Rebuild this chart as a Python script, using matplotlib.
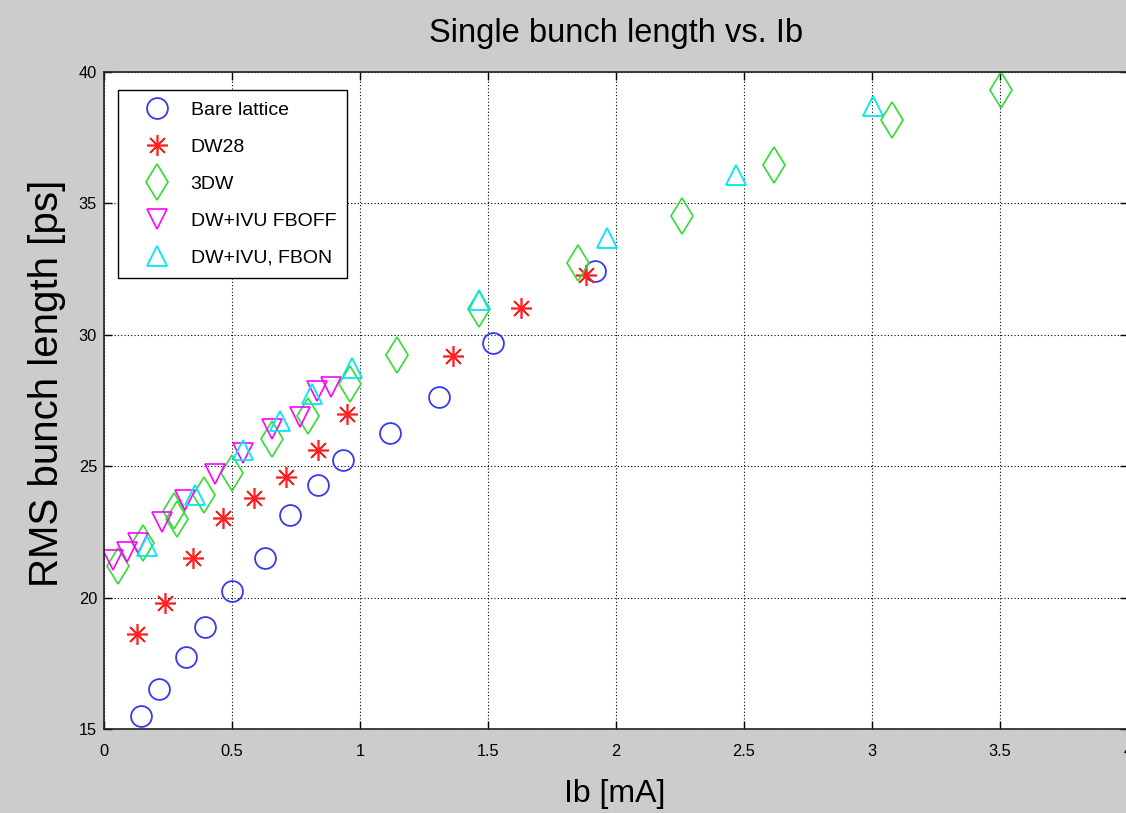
import matplotlib
matplotlib.use("Agg")
import matplotlib.pyplot as plt
from matplotlib import font_manager

# ---------------- data ----------------
bare_x = [0.145, 0.215, 0.320, 0.396, 0.501, 0.628, 0.727, 0.837, 0.935, 1.117, 1.310, 1.518, 1.918]
bare_y = [15.49, 16.53, 17.75, 18.88, 20.27, 21.50, 23.14, 24.30, 25.23, 26.27, 27.65, 29.67, 32.41]

dw28_x = [0.128, 0.238, 0.349, 0.466, 0.586, 0.710, 0.837, 0.948, 1.365, 1.628, 1.883]
dw28_y = [18.62, 19.80, 21.49, 23.01, 23.79, 24.59, 25.63, 26.98, 29.21, 31.02, 32.28]

dw3_x = [0.056, 0.154, 0.273, 0.285, 0.391, 0.501, 0.657, 0.797, 0.960, 1.145, 1.465, 1.852, 2.256, 2.617, 3.077, 3.502]
dw3_y = [21.20, 22.08, 23.30, 23.00, 23.90, 24.75, 26.05, 26.90, 28.14, 29.22, 30.99, 32.74, 34.51, 36.47, 38.16, 39.32]

fboff_x = [0.035, 0.090, 0.131, 0.225, 0.318, 0.434, 0.544, 0.655, 0.766, 0.831, 0.887]
fboff_y = [21.42, 21.74, 22.06, 22.88, 23.71, 24.71, 25.51, 26.41, 26.89, 27.85, 28.00]

fbon_x = [0.167, 0.355, 0.544, 0.688, 0.811, 0.967, 1.466, 1.965, 2.467, 3.005]
fbon_y = [21.96, 23.92, 25.63, 26.71, 27.73, 28.74, 31.34, 33.68, 36.09, 38.71]

labels = ["Bare lattice", "DW28", "3DW", "DW+IVU FBOFF", "DW+IVU, FBON"]
x_ticks = [0, 0.5, 1, 1.5, 2, 2.5, 3, 3.5, 4]
x_ticklabels = ["0", "0.5", "1", "1.5", "2", "2.5", "3", "3.5", "4"]
y_ticks = [15, 20, 25, 30, 35, 40]

# ---------------- fonts ----------------
names = {f.name for f in font_manager.fontManager.ttflist}
NARROW = "Liberation Sans Narrow" in names
if NARROW:
    hfont = ["Liberation Sans Narrow", "Liberation Sans", "DejaVu Sans"]
    tick_fs, leg_fs, title_fs, xlab_fs = 13.5, 17, 27.5, 27
else:
    hfont = ["Liberation Sans", "DejaVu Sans"]
    tick_fs, leg_fs, title_fs, xlab_fs = 11.8, 14, 23.5, 23
vfont = ["Liberation Sans", "DejaVu Sans"]

plt.rcParams["font.family"] = hfont

W, H = 1126, 813
fig = plt.figure(figsize=(W / 100, H / 100), dpi=100, facecolor="#cccccc")
ax = fig.add_axes([104 / W, (H - 729) / H, 1024 / W, 657 / H])
ax.set_facecolor("white")

ax.plot(bare_x, bare_y, ls="none", marker="o", ms=15, mfc="none", mec="#3838f4", mew=1.3, label=labels[0])
ax.plot(dw28_x, dw28_y, ls="none", marker=(8, 2, 0), ms=15, mfc="none", mec="#ff2020", mew=1.2, label=labels[1])
ax.plot(dw3_x, dw3_y, ls="none", marker="d", ms=18, mfc="none", mec="#33dd33", mew=1.2, label=labels[2])
ax.plot(fboff_x, fboff_y, ls="none", marker="v", ms=14.5, mfc="none", mec="#ff00ff", mew=1.2, label=labels[3])
ax.plot(fbon_x, fbon_y, ls="none", marker="^", ms=14.5, mfc="none", mec="#00e8f0", mew=1.3, label=labels[4])

ax.set_xlim(0, 4)
ax.set_ylim(15, 40)
ax.set_xticks(x_ticks)
ax.set_xticklabels(x_ticklabels)
ax.set_yticks(y_ticks)
ax.tick_params(which="both", direction="in", top=True, right=True, length=6, width=1.0,
               labelsize=tick_fs, color="black")
ax.tick_params(axis="x", pad=11)
ax.tick_params(axis="y", pad=5)
ax.grid(True, color="black", linestyle=(0, (1, 2)), linewidth=0.8)
for s in ax.spines.values():
    s.set_color("#222222")
    s.set_linewidth(1.2)

ax.set_title("Single bunch length vs. Ib", fontsize=title_fs, y=(729 - 34) / 657, va="center", pad=0)
ax.set_xlabel("Ib [mA]", fontsize=xlab_fs, va="center")
ax.xaxis.set_label_coords((615 - 104) / 1024, (729 - 794) / 657)
ax.set_ylabel("RMS bunch length [ps]", fontsize=29, family=vfont, va="center", ha="center")
ax.yaxis.set_label_coords((47 - 104) / 1024, (729 - 383) / 657)

leg = ax.legend(loc="upper left", bbox_to_anchor=((118 - 104) / 1024, (729 - 90) / 657),
                fontsize=leg_fs, frameon=True, fancybox=False, shadow=False,
                borderpad=0.57, handlelength=2.9, handletextpad=0.26, labelspacing=1.0,
                borderaxespad=0, framealpha=1)
leg.get_frame().set_edgecolor("black")
leg.get_frame().set_linewidth(1.0)

fig.savefig("out.png", dpi=100, facecolor=fig.get_facecolor())
